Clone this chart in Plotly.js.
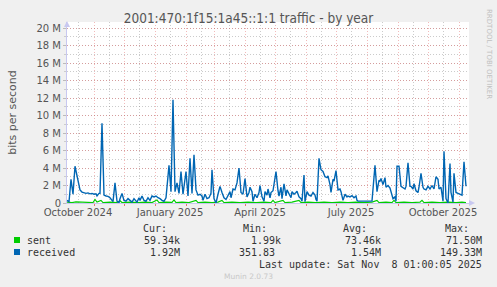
<!DOCTYPE html>
<html>
<head>
<meta charset="utf-8">
<script src="https://cdn.plot.ly/plotly-3.0.1.min.js"></script>
<style>
html,body{margin:0;padding:0;background:#F0F0F0;}
#chart{width:497px;height:287px;}
</style>
</head>
<body>
<div id="chart"></div>
<script>
// ---- data (values in Mbit/s) ----
const recvDates = ['2024-10-05','2024-10-07','2024-10-09','2024-10-11','2024-10-13','2024-10-15','2024-10-17','2024-10-18','2024-10-20','2024-10-22','2024-10-24','2024-10-26','2024-10-28','2024-10-30',
'2024-11-01','2024-11-03','2024-11-04','2024-11-06','2024-11-07','2024-11-09','2024-11-11','2024-11-13','2024-11-15','2024-11-17','2024-11-19','2024-11-20','2024-11-22','2024-11-24','2024-11-26','2024-11-27','2024-11-29',
'2024-12-01','2024-12-03','2024-12-05','2024-12-07','2024-12-09','2024-12-11','2024-12-13','2024-12-14','2024-12-16','2024-12-17','2024-12-19','2024-12-21','2024-12-23','2024-12-25','2024-12-27','2024-12-29','2024-12-31',
'2025-01-02','2025-01-04','2025-01-06','2025-01-08','2025-01-10','2025-01-12','2025-01-13','2025-01-15','2025-01-17','2025-01-19','2025-01-21','2025-01-23','2025-01-25','2025-01-27','2025-01-29',
'2025-02-01','2025-02-03','2025-02-05','2025-02-07','2025-02-09','2025-02-11','2025-02-13','2025-02-15','2025-02-17','2025-02-18','2025-02-20','2025-02-22','2025-02-24','2025-02-26','2025-02-27',
'2025-03-01','2025-03-03','2025-03-05','2025-03-07','2025-03-09','2025-03-11','2025-03-13','2025-03-15','2025-03-17','2025-03-18','2025-03-20','2025-03-22','2025-03-24','2025-03-26','2025-03-28','2025-03-30',
'2025-04-01','2025-04-03','2025-04-05','2025-04-06','2025-04-08','2025-04-09','2025-04-11','2025-04-13','2025-04-15','2025-04-16','2025-04-18','2025-04-20','2025-04-21','2025-04-23','2025-04-24','2025-04-26','2025-04-27','2025-04-29',
'2025-05-02','2025-05-04','2025-05-05','2025-05-07','2025-05-08','2025-05-10','2025-05-12','2025-05-13','2025-05-15','2025-05-17','2025-05-18','2025-05-20','2025-05-22','2025-05-23','2025-05-25','2025-05-27','2025-05-28','2025-05-30','2025-05-31',
'2025-06-02','2025-06-04','2025-06-06','2025-06-08','2025-06-10','2025-06-11','2025-06-12','2025-06-14','2025-06-16','2025-06-18','2025-06-20','2025-06-22','2025-06-23','2025-06-25','2025-06-26','2025-06-28','2025-06-29',
'2025-07-01','2025-07-03','2025-07-05','2025-07-06','2025-07-08','2025-07-09','2025-07-10','2025-07-12','2025-07-13','2025-07-15','2025-07-17','2025-07-19','2025-07-21','2025-07-22','2025-07-23',
'2025-08-06','2025-08-07','2025-08-09','2025-08-11','2025-08-13','2025-08-14','2025-08-15','2025-08-17','2025-08-19','2025-08-20','2025-08-22','2025-08-24','2025-08-25','2025-08-27','2025-08-29','2025-08-30','2025-08-31',
'2025-09-02','2025-09-04','2025-09-06','2025-09-08','2025-09-09','2025-09-11','2025-09-13','2025-09-14','2025-09-16','2025-09-17','2025-09-19','2025-09-21','2025-09-22','2025-09-24','2025-09-26','2025-09-27','2025-09-29',
'2025-10-01','2025-10-03','2025-10-05','2025-10-07','2025-10-09','2025-10-11','2025-10-12','2025-10-14','2025-10-16','2025-10-17','2025-10-19','2025-10-21','2025-10-23','2025-10-24','2025-10-26','2025-10-27','2025-10-29','2025-10-31',
'2025-11-02','2025-11-04','2025-11-06','2025-11-08'];
const recvValues = [0.3,0.15,2.7,1.0,4.2,3.0,1.8,1.5,1.25,1.2,1.1,1.15,1.05,1.1,
1.0,1.05,0.8,1.1,1.1,9.1,0.9,0.8,0.75,0.6,0.3,0.15,2.3,0.2,0.0,0.5,1.1,
0.3,0.2,0.5,0.3,0.1,0.5,0.3,0.1,0.6,0.3,0.8,0.3,0.2,0.6,0.3,0.8,0.7,
0.8,0.6,0.5,0.3,0.2,0.6,1.9,4.3,1.3,11.8,1.3,2.3,1.1,3.6,1.0,
3.6,0.8,5.1,1.1,5.5,1.5,0.9,1.0,0.8,0.3,1.0,0.5,0.6,1.1,3.8,
0.5,0.0,1.0,1.9,1.2,0.6,0.4,0.8,1.3,0.6,1.6,1.5,2.3,4.0,1.2,1.0,
2.8,0.7,1.2,1.8,1.3,0.2,1.0,0.6,1.2,2.0,0.7,0.2,1.3,0.9,1.6,0.6,1.2,1.4,
3.6,1.4,0.8,1.8,0.5,2.2,0.8,1.5,1.0,0.6,1.3,1.0,1.2,1.35,0.7,0.5,0.2,3.2,0.15,
1.3,0.9,0.8,1.2,0.9,0.4,0.2,5.1,3.8,3.6,3.0,2.9,3.1,2.1,1.2,2.7,2.5,
3.7,1.5,1.6,1.3,0.3,0.6,1.0,0.7,0.8,0.7,0.85,0.6,0.8,0.3,0.22,
0.22,1.4,4.3,1.3,2.6,2.5,2.8,2.1,2.9,1.8,2.0,1.7,1.3,0.5,0.7,0.2,4.2,
4.2,1.9,1.7,1.6,1.9,4.6,1.9,1.9,1.6,2.2,1.4,1.2,1.8,3.4,1.8,1.6,1.5,
1.9,1.6,2.0,1.6,3.0,2.7,1.6,1.8,0.2,5.9,0.5,0.0,4.5,1.2,0.1,3.4,1.2,1.1,
1.0,0.9,4.7,1.92];

const sentDates = ['2024-10-05','2024-10-10','2024-10-14','2024-10-20','2024-10-26','2024-10-31','2024-11-02','2024-11-04','2024-11-08','2024-11-10','2024-11-17','2024-11-24','2024-11-27','2024-11-29',
'2024-12-07','2024-12-15','2024-12-22','2024-12-29','2025-01-03','2025-01-05','2025-01-12','2025-01-18','2025-01-20','2025-01-22','2025-01-28',
'2025-02-04','2025-02-11','2025-02-13','2025-02-20','2025-02-27','2025-03-05','2025-03-09','2025-03-11','2025-03-19','2025-03-27',
'2025-04-04','2025-04-12','2025-04-20','2025-04-27','2025-04-29','2025-05-01','2025-05-09','2025-05-11','2025-05-18','2025-05-25','2025-05-27',
'2025-06-03','2025-06-11','2025-06-19','2025-06-27','2025-07-05','2025-07-13','2025-07-21','2025-07-29',
'2025-08-06','2025-08-11','2025-08-13','2025-08-20','2025-08-26','2025-08-28','2025-08-30',
'2025-09-07','2025-09-15','2025-09-23','2025-09-25','2025-09-27','2025-10-05','2025-10-13','2025-10-21','2025-10-29','2025-11-04','2025-11-08'];
const sentValues = [0.1,0.05,0.12,0.08,0.1,0.05,0.4,0.1,0.3,0.05,0.1,0.05,0.25,0.05,
0.1,0.05,0.1,0.05,0.35,0.05,0.1,0.08,0.35,0.05,0.1,
0.05,0.3,0.05,0.1,0.05,0.1,0.3,0.05,0.1,0.05,
0.1,0.05,0.1,0.05,0.3,0.05,0.3,0.05,0.1,0.3,0.05,
0.1,0.05,0.1,0.05,0.1,0.05,0.1,0.05,
0.1,0.3,0.05,0.1,0.05,0.3,0.05,
0.1,0.05,0.1,0.3,0.05,0.1,0.05,0.1,0.05,0.1,0.06];

const seriesNames = ['sent','received'];
const seriesColors = ['#00CC00','#0066B3'];
const legendHeaders = ['Cur:','Min:','Avg:','Max:'];
const sentStats = ['59.34k','1.99k','73.46k','71.50M'];
const recvStats = ['1.92M','351.83\u00A0','1.54M','149.33M'];

const yTickVals = [0,2,4,6,8,10,12,14,16,18,20];
const yTickText = ['0','2 M','4 M','6 M','8 M','10 M','12 M','14 M','16 M','18 M','20 M'];

const midMonths = ['2024-10-16','2024-11-16','2024-12-16','2025-01-16','2025-02-16','2025-03-16','2025-04-16','2025-05-16','2025-06-16','2025-07-16','2025-08-16','2025-09-16','2025-10-16'];
const midLabels = ['October 2024','','','January 2025','','','April 2025','','','July 2025','','','October 2025'];
const monthStarts = ['2024-11-01','2024-12-01','2025-01-01','2025-02-01','2025-03-01','2025-04-01','2025-05-01','2025-06-01','2025-07-01','2025-08-01','2025-09-01','2025-10-01','2025-11-01'];

// ---- layout helpers (pixel -> paper) ----
const L = 67, R = 469, T = 22, B = 203;
const px = x => (x - L) / (R - L);
const py = y => (B - y) / (B - T);

const FONT = 'DejaVu Sans, Verdana, sans-serif';
const TITLEFONT = 'DejaVu Sans Condensed, DejaVu Sans, sans-serif';
const MONO = 'DejaVu Sans Mono, monospace';
const TXT = '#555555';
const RED = 'rgba(225,90,90,0.42)';
const GREY = 'rgba(130,130,130,0.42)';

const traces = [
  {x: sentDates, y: sentValues, type:'scatter', mode:'lines', name: seriesNames[0], line:{color: seriesColors[0], width:1.2}},
  {x: recvDates, y: recvValues, type:'scatter', mode:'lines', name: seriesNames[1], line:{color: seriesColors[1], width:1.4}}
];

const ann = [];
function A(x, y, text, opts) {
  ann.push(Object.assign({x: px(x), y: py(y), xref:'paper', yref:'paper', text: text, showarrow:false,
    xanchor:'left', yanchor:'middle', borderpad:0, font:{family: MONO, size:10, color:'#333333'}}, opts||{}));
}
const headerRight = [168, 268, 368, 470];
const valueRight = [181, 282, 382, 483];
legendHeaders.forEach((h,i) => A(headerRight[i], 228, h, {xanchor:'right'}));
A(26, 240, seriesNames[0]);
A(26, 252, seriesNames[1]);
sentStats.forEach((v,i) => A(valueRight[i], 240, v, {xanchor:'right'}));
recvStats.forEach((v,i) => A(valueRight[i], 252, v, {xanchor:'right'}));
A(483, 264, 'Last update: Sat Nov\u00A0\u00A08 01:00:05 2025', {xanchor:'right'});
A(248, 276, 'Munin 2.0.73', {xanchor:'center', font:{family: FONT, size:7.5, color:'#C8C8C8'}});
A(489, 54, 'RRDTOOL / TOBI OETIKER', {xanchor:'center', textangle:90, font:{family: FONT, size:7, color:'#C0C0C0'}});

const shapes = [
  {type:'rect', xref:'paper', yref:'paper', x0: px(14), x1: px(20), y0: py(243), y1: py(237), fillcolor: seriesColors[0], line:{width:0}},
  {type:'rect', xref:'paper', yref:'paper', x0: px(14), x1: px(20), y0: py(255), y1: py(249), fillcolor: seriesColors[1], line:{width:0}},
  {type:'path', xref:'paper', yref:'paper', path:`M ${px(64)} ${py(27)} L ${px(70)} ${py(27)} L ${px(67)} ${py(21)} Z`, fillcolor:'#C8C8F0', line:{width:0}},
  {type:'path', xref:'paper', yref:'paper', path:`M ${px(469)} ${py(200)} L ${px(469)} ${py(206)} L ${px(475)} ${py(203)} Z`, fillcolor:'#C8C8F0', line:{width:0}}
];

const layout = {
  width: 497, height: 287,
  margin: {l: L, r: 497 - R, t: T, b: 287 - B, pad: 0},
  paper_bgcolor: '#F0F0F0',
  plot_bgcolor: '#FFFFFF',
  showlegend: false,
  title: {text: '2001:470:1f15:1a45::1:1 traffic - by year', x: 0.5, xref:'container', xanchor:'center',
          y: 1 - 18/287, yref:'container', yanchor:'middle',
          font: {family: TITLEFONT, size: 13.5, color: TXT}},
  xaxis: {
    type: 'date',
    range: ['2024-10-05', '2025-11-11'],
    tickmode: 'array', tickvals: midMonths, ticktext: midLabels,
    showgrid: true, gridcolor: GREY, griddash: '1px,2px', gridwidth: 1,
    ticks: '', tickfont: {family: FONT, size: 10, color: TXT},
    minor: {tickmode:'array', tickvals: monthStarts, showgrid: true, gridcolor: RED, griddash:'1px,2px', gridwidth:1,
            ticks:'outside', ticklen: 2, tickcolor:'rgba(225,60,60,0.7)'},
    showline: true, linecolor: '#C8C8F0', linewidth: 1,
    zeroline: false, fixedrange: true
  },
  yaxis: {
    range: [0, 20.69],
    tickmode: 'array', tickvals: yTickVals, ticktext: yTickText,
    showgrid: true, gridcolor: RED, griddash: '1px,2px', gridwidth: 1,
    ticks: 'outside', ticklen: 3, tickcolor: '#BBBBBB',
    minor: {dtick: 1, tick0: 0, showgrid: true, gridcolor: GREY, griddash:'1px,2px', gridwidth:1,
            ticks:'outside', ticklen: 2, tickcolor:'#CCCCCC'},
    tickfont: {family: FONT, size: 10, color: TXT},
    showline: true, linecolor: '#C8C8F0', linewidth: 1,
    zeroline: false, fixedrange: true,
    title: {text: 'bits per second', font: {family: FONT, size: 11, color: TXT}, standoff: 17}
  },
  annotations: ann,
  shapes: shapes
};

Plotly.newPlot('chart', traces, layout, {staticPlot: true, displayModeBar: false});
</script>
</body>
</html>
